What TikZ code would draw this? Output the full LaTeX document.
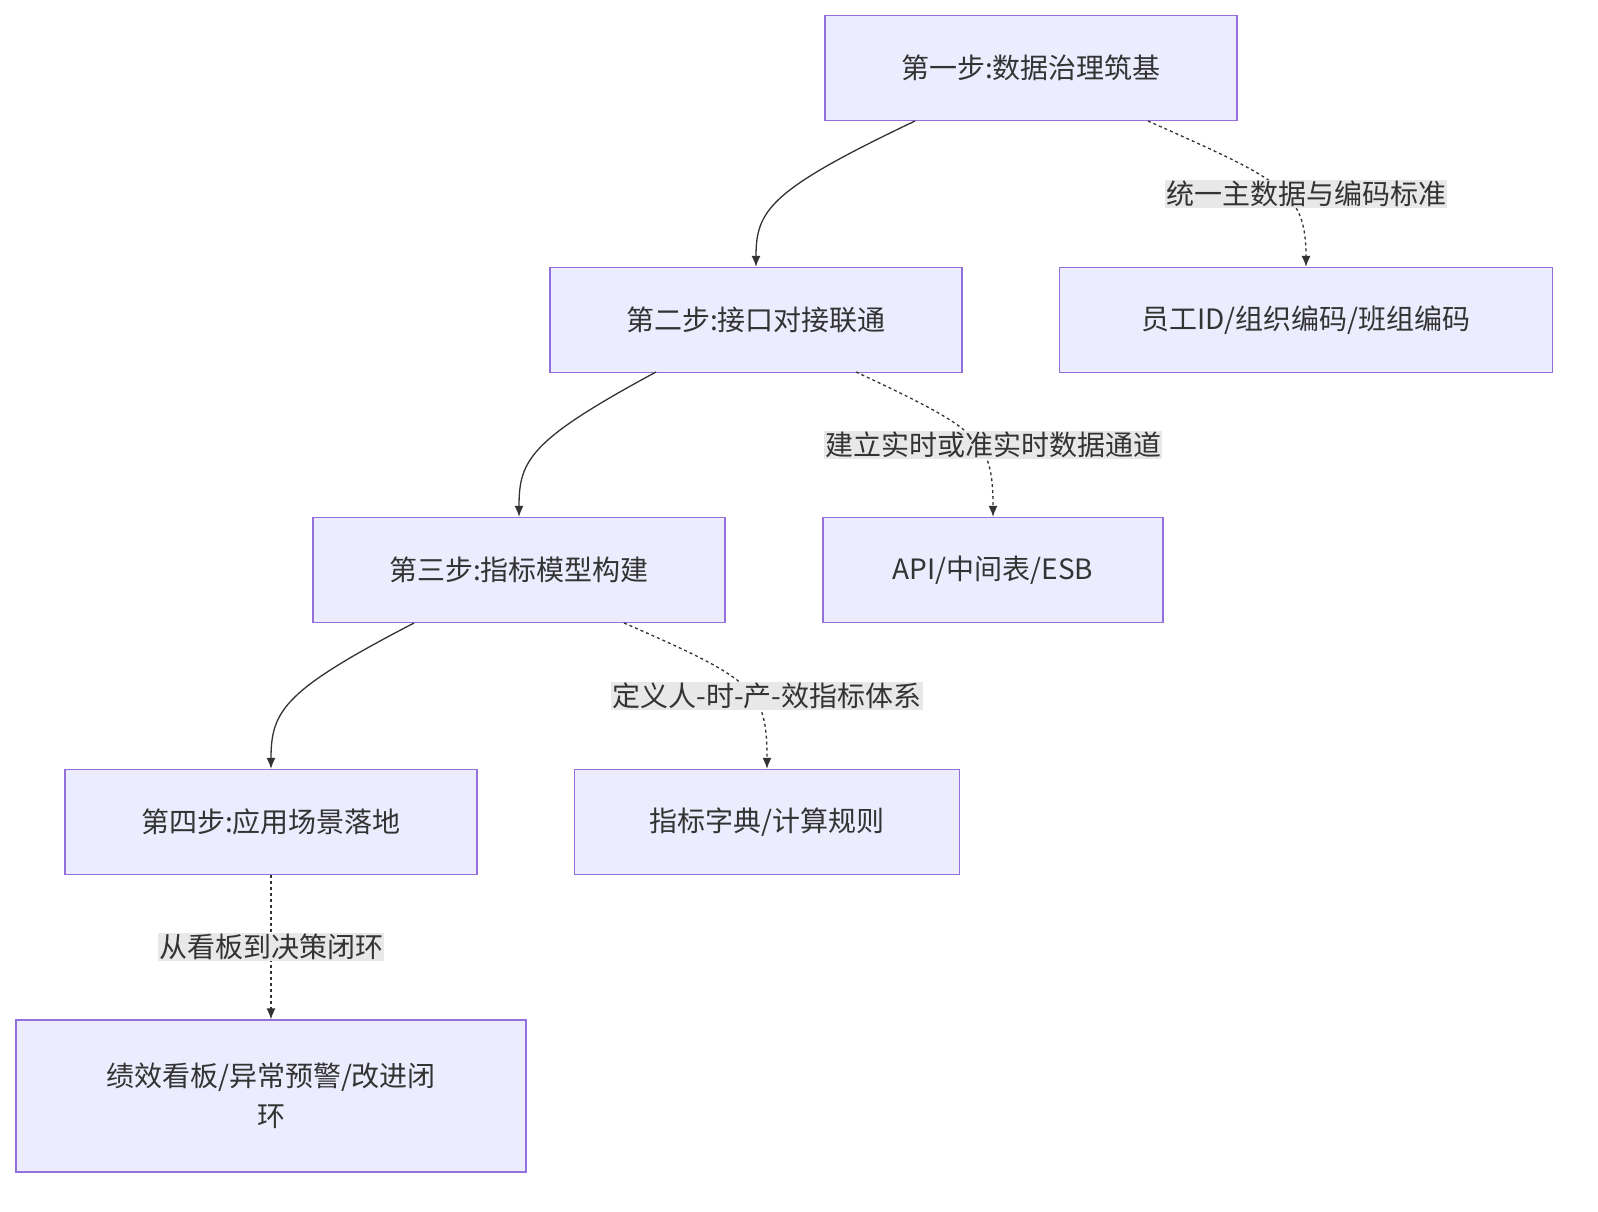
\documentclass[tikz,border=0pt]{standalone}
\usepackage{fontspec}
\setmainfont{Noto Sans CJK SC}
\usetikzlibrary{arrows.meta}
\definecolor{nfill}{HTML}{ECECFF}
\definecolor{nline}{HTML}{9370DB}
\definecolor{eline}{HTML}{333333}
\definecolor{lbg}{HTML}{E8E8E8}
\begin{document}
\begin{tikzpicture}[x=1pt,y=-1pt,
  box/.style={draw=nline,fill=nfill,line width=1.3pt,minimum height=105pt,inner sep=0pt,font=\fontsize{28}{40}\selectfont,text=eline,align=center},
  lab/.style={fill=lbg,inner sep=1pt,font=\fontsize{28}{34}\selectfont,text=eline},
  sol/.style={draw=eline,line width=1.3pt,-{Latex[length=11pt,width=9pt]}},
  das/.style={draw=eline,line width=1.3pt,dash pattern=on 3pt off 3pt,-{Latex[length=11pt,width=9pt]}}]
\useasboundingbox (0,0) rectangle (1598,1212);
\node[box,minimum width=412pt] (n1) at (1031,68) {第一步:数据治理筑基};
\node[box,minimum width=412pt] (n2) at (756,320) {第二步:接口对接联通};
\node[box,minimum width=412pt] (n3) at (519,570) {第三步:指标模型构建};
\node[box,minimum width=412pt] (n4) at (271,822) {第四步:应用场景落地};
\node[box,minimum width=510pt,minimum height=152pt] (n5) at (271,1096) {绩效看板/异常预警/改进闭\\环};
\node[box,minimum width=493pt] (s1) at (1306,320) {员工ID/组织编码/班组编码};
\node[box,minimum width=340pt] (s2) at (993,570) {API/中间表/ESB};
\node[box,minimum width=385pt] (s3) at (767,822) {指标字典/计算规则};
\coordinate (a1) at (915,121);
\coordinate (a2) at (656,372);
\coordinate (a3) at (414,623);
\path[sol] (a1) .. controls (770,190) and (756,210) .. (n2.north);
\path[sol] (a2) .. controls (530,440) and (519,460) .. (n3.north);
\path[sol] (a3) .. controls (285,690) and (271,710) .. (n4.north);
\coordinate (b1) at (1148,121);
\coordinate (b2) at (856,372);
\coordinate (b3) at (624,623);
\path[das] (b1) .. controls (1280,180) and (1306,190) .. (s1.north);
\path[das] (b2) .. controls (980,430) and (993,440) .. (s2.north);
\path[das] (b3) .. controls (755,680) and (767,690) .. (s3.north);
\path[das] (n4.south) -- (n5.north);
\node[lab] (l1) at (1306,194) {统一主数据与编码标准};
\node[lab] (l2) at (993,445) {建立实时或准实时数据通道};
\node[lab] (l3) at (767,696) {定义人-时-产-效指标体系};
\node[lab] (l4) at (271,947) {从看板到决策闭环};
\end{tikzpicture}
\end{document}
